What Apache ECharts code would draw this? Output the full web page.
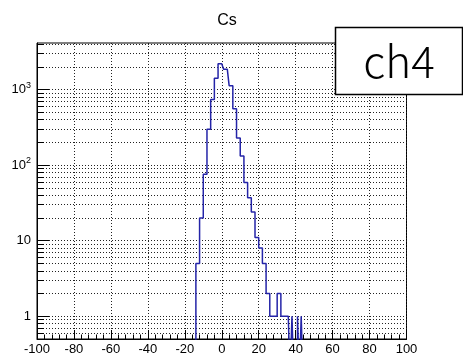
<!DOCTYPE html>
<html>
<head>
<meta charset="utf-8">
<script src="https://cdn.jsdelivr.net/npm/echarts@6/dist/echarts.min.js"></script>
<style>
  html, body { margin: 0; padding: 0; background: #fff; }
  #chart { width: 463px; height: 356px; }
</style>
</head>
<body>
<div id="chart"></div>
<script>
// Histogram "Cs", channel 4: 1-unit bins, counts from the low edge below
const binWidth = 1;
const firstBinLow = -16;
const counts = [
  0, 0, 5, 5, 20, 20, 76, 76, 300, 300,          // -16 .. -7
  740, 740, 1420, 1420, 2200, 2200,              // -6 .. -1
  2090, 1870, 1870, 1870, 1130, 1130, 557, 557,  // 0 .. 7
  230, 230, 132, 132, 59, 59, 37, 37, 24, 24,    // 8 .. 17
  11, 11, 8, 8, 5, 5, 2, 2, 1, 1,                // 18 .. 27
  1, 1, 2, 2, 1, 1, 1, 1, 1, 0,                  // 28 .. 37
  1, 0, 0, 1, 0, 1, 0, 0                         // 38 .. 45
];

const xRange = [-100, 100];
const xMajorStep = 20;
const yRange = [0.5, 4150];
const yDecades = [1, 10, 100, 1000];

// every 1..9 multiple of each decade that lies inside the y range
const yAllTicks = [];
for (let e = -1; e <= 3; e++) {
  for (let m = 1; m <= 9; m++) {
    const v = +(m * Math.pow(10, e)).toPrecision(3);
    if (v >= yRange[0] && v <= yRange[1]) yAllTicks.push(v);
  }
}

// empty bins sit below the frame and get clipped away (drawn at the floor like ROOT)
const floorValue = yRange[0] * 0.3;
const stepData = counts.map((c, i) => [firstBinLow + i * binWidth, c > 0 ? c : floorValue]);
stepData.push([firstBinLow + counts.length * binWidth, floorValue]);

const font = 'Liberation Sans, Arial, Helvetica, sans-serif';

const chart = echarts.init(document.getElementById('chart'), null, { renderer: 'canvas' });
chart.setOption({
  animation: false,
  backgroundColor: '#fff',
  title: {
    text: 'Cs',
    left: 222,
    top: 8,
    textAlign: 'center',
    textStyle: { fontFamily: font, fontSize: 16, fontWeight: 'normal', color: '#000' }
  },
  grid: {
    left: 37, right: 56.5, top: 43, bottom: 15,
    show: true, borderColor: '#000', borderWidth: 1, backgroundColor: '#fff'
  },
  xAxis: {
    type: 'value',
    min: xRange[0], max: xRange[1], interval: xMajorStep,
    axisLine: { show: true, onZero: false, lineStyle: { color: '#000', width: 1 } },
    axisTick: { show: true, inside: true, length: 9, lineStyle: { color: '#000' } },
    minorTick: { show: true, splitNumber: 5, length: 4.5, lineStyle: { color: '#000' } },
    axisLabel: { color: '#000', fontFamily: font, fontSize: 13, margin: 4 },
    splitLine: { show: true, lineStyle: { color: '#222', width: 1, type: [1, 2] } }
  },
  yAxis: [
    {
      type: 'log', logBase: 10, position: 'left',
      min: yRange[0], max: yRange[1],
      axisLine: { show: true, onZero: false, lineStyle: { color: '#000', width: 1 } },
      axisTick: { show: true, inside: true, length: 7, customValues: yAllTicks, lineStyle: { color: '#000' } },
      axisLabel: {
        customValues: yDecades,
        color: '#000', fontFamily: font, fontSize: 13, margin: 6,
        formatter: v => v < 100 ? String(Math.round(v)) : '{b|10}{s|' + Math.round(Math.log10(v)) + '}',
        rich: {
          b: { fontFamily: font, fontSize: 13, color: '#000' },
          s: { fontFamily: font, fontSize: 9, color: '#000', padding: [0, 0, 9, 0] }
        }
      },
      splitLine: { show: true, lineStyle: { color: '#222', width: 1, type: [1, 2] } }
    },
    {
      type: 'log', logBase: 10, position: 'left', offset: 0,
      min: yRange[0], max: yRange[1],
      axisLine: { show: false, onZero: false },
      axisTick: { show: true, inside: true, length: 12, customValues: yDecades, lineStyle: { color: '#000' } },
      axisLabel: { show: false },
      splitLine: { show: false }
    }
  ],
  series: [{
    type: 'line',
    step: 'end',
    data: stepData,
    symbol: 'none',
    clip: true,
    lineStyle: { color: '#2424a8', width: 1.5 }
  }],
  graphic: [
    {
      type: 'rect', z: 100,
      shape: { x: 335.5, y: 27.5, width: 127, height: 67 },
      style: { fill: '#fff', stroke: '#000', lineWidth: 1.5 }
    },
    {
      type: 'text', z: 101,
      x: 399, y: 61,
      style: {
        text: 'ch4', fill: '#000',
        font: '300 44px "Noto Sans CJK JP", "Noto Sans", sans-serif',
        align: 'center', verticalAlign: 'middle'
      }
    }
  ]
});
</script>
</body>
</html>
